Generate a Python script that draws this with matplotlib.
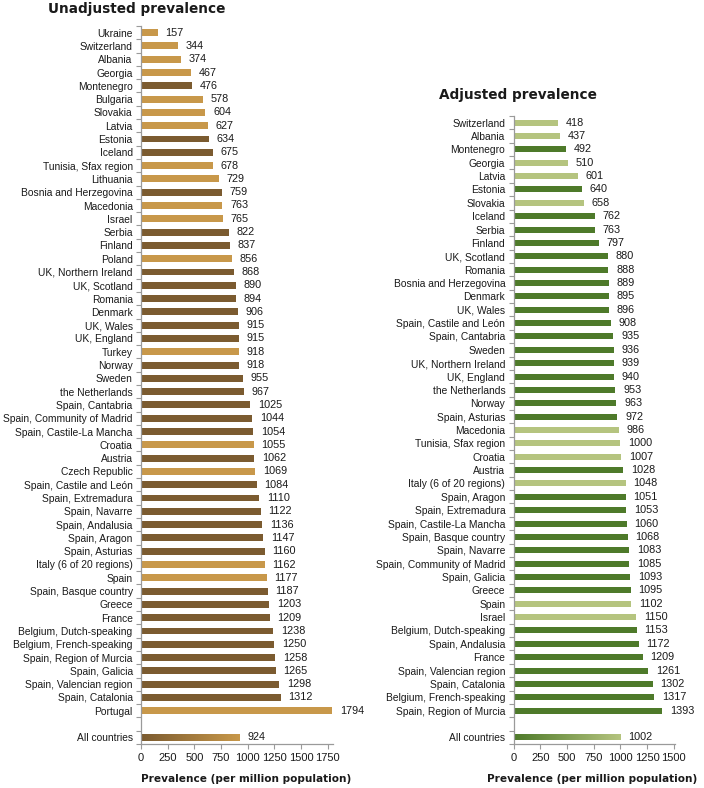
import matplotlib
matplotlib.use("Agg")
import matplotlib.pyplot as plt
import numpy as np
from matplotlib.colors import LinearSegmentedColormap
from matplotlib import font_manager

# ---------------- data ----------------
unadj_countries = ["Ukraine", "Switzerland", "Albania", "Georgia", "Montenegro", "Bulgaria",
                   "Slovakia", "Latvia", "Estonia", "Iceland", "Tunisia, Sfax region", "Lithuania",
                   "Bosnia and Herzegovina", "Macedonia", "Israel", "Serbia", "Finland", "Poland",
                   "UK, Northern Ireland", "UK, Scotland", "Romania", "Denmark", "UK, Wales",
                   "UK, England", "Turkey", "Norway", "Sweden", "the Netherlands",
                   "Spain, Cantabria", "Spain, Community of Madrid", "Spain, Castile-La Mancha",
                   "Croatia", "Austria", "Czech Republic", "Spain, Castile and León",
                   "Spain, Extremadura", "Spain, Navarre", "Spain, Andalusia", "Spain, Aragon",
                   "Spain, Asturias", "Italy (6 of 20 regions)", "Spain", "Spain, Basque country",
                   "Greece", "France", "Belgium, Dutch-speaking", "Belgium, French-speaking",
                   "Spain, Region of Murcia", "Spain, Galicia", "Spain, Valencian region",
                   "Spain, Catalonia", "Portugal"]
unadj_values = [157, 344, 374, 467, 476, 578, 604, 627, 634, 675, 678, 729, 759, 763, 765, 822,
                837, 856, 868, 890, 894, 906, 915, 915, 918, 918, 955, 967, 1025, 1044, 1054,
                1055, 1062, 1069, 1084, 1110, 1122, 1136, 1147, 1160, 1162, 1177, 1187, 1203,
                1209, 1238, 1250, 1258, 1265, 1298, 1312, 1794]
unadj_light = ["Ukraine", "Switzerland", "Albania", "Georgia", "Bulgaria", "Slovakia", "Latvia",
               "Tunisia, Sfax region", "Lithuania", "Macedonia", "Israel", "Poland", "Turkey",
               "Croatia", "Czech Republic", "Italy (6 of 20 regions)", "Spain", "Portugal"]
unadj_all = 924

adj_countries = ["Switzerland", "Albania", "Montenegro", "Georgia", "Latvia", "Estonia",
                 "Slovakia", "Iceland", "Serbia", "Finland", "UK, Scotland", "Romania",
                 "Bosnia and Herzegovina", "Denmark", "UK, Wales", "Spain, Castile and León",
                 "Spain, Cantabria", "Sweden", "UK, Northern Ireland", "UK, England",
                 "the Netherlands", "Norway", "Spain, Asturias", "Macedonia",
                 "Tunisia, Sfax region", "Croatia", "Austria", "Italy (6 of 20 regions)",
                 "Spain, Aragon", "Spain, Extremadura", "Spain, Castile-La Mancha",
                 "Spain, Basque country", "Spain, Navarre", "Spain, Community of Madrid",
                 "Spain, Galicia", "Greece", "Spain", "Israel", "Belgium, Dutch-speaking",
                 "Spain, Andalusia", "France", "Spain, Valencian region", "Spain, Catalonia",
                 "Belgium, French-speaking", "Spain, Region of Murcia"]
adj_values = [418, 437, 492, 510, 601, 640, 658, 762, 763, 797, 880, 888, 889, 895, 896, 908,
              935, 936, 939, 940, 953, 963, 972, 986, 1000, 1007, 1028, 1048, 1051, 1053, 1060,
              1068, 1083, 1085, 1093, 1095, 1102, 1150, 1153, 1172, 1209, 1261, 1302, 1317, 1393]
adj_light = ["Switzerland", "Albania", "Georgia", "Latvia", "Slovakia", "Macedonia",
             "Tunisia, Sfax region", "Croatia", "Italy (6 of 20 regions)", "Spain", "Israel"]
adj_all = 1002

unadj_ticks = [0, 250, 500, 750, 1000, 1250, 1500, 1750]
adj_ticks = [0, 250, 500, 750, 1000, 1250, 1500]

# ---------------- style ----------------
avail = {f.name for f in font_manager.fontManager.ttflist}
LFONT = "Liberation Sans" if "Liberation Sans" in avail else "DejaVu Sans"
plt.rcParams["font.family"] = [LFONT, "DejaVu Sans"]

BROWN_L, BROWN_D = "#C8984A", "#7B5B30"
GREEN_L, GREEN_D = "#B5C47F", "#4E7A2A"
SPINE = "#9A9A9A"
FS = 7.4
VFS = 7.8
TFS = 8.0

fig = plt.figure(figsize=(7.04, 7.88), dpi=100)


def draw_panel(ax, countries, values, light, all_val, c_light, c_dark, xmax, ticks, height):
    n = len(countries)
    ypos = list(range(n))
    all_y = n + 1
    colors = [c_light if c in light else c_dark for c in countries]
    ax.barh(ypos, values, height=height, color=colors, edgecolor="none", zorder=2)
    for y, v in zip(ypos, values):
        ax.annotate(f"{v}", (v, y), xytext=(5.5, 0), textcoords="offset points",
                    va="center", ha="left", fontsize=VFS, color="#1a1a1a", clip_on=False)
    # All countries gradient bar
    bar = ax.barh([all_y], [all_val], height=height, color="none", edgecolor="none", zorder=2)[0]
    cmap = LinearSegmentedColormap.from_list("g", [c_dark, c_light])
    grad = np.linspace(0, 1, 256).reshape(1, -1)
    im = ax.imshow(grad, cmap=cmap, aspect="auto",
                   extent=[0, all_val, all_y + height / 2, all_y - height / 2], zorder=2)
    im.set_clip_path(bar)
    ax.annotate(f"{all_val}", (all_val, all_y), xytext=(5.5, 0), textcoords="offset points",
                va="center", ha="left", fontsize=VFS, color="#1a1a1a", clip_on=False)

    ax.set_yticks(ypos + [all_y])
    ax.set_yticklabels(countries + ["All countries"], fontsize=FS, color="#1a1a1a")
    ax.set_yticks(np.arange(-0.5, all_y + 1, 1.0), minor=True)
    ax.tick_params(axis="y", which="major", length=0, pad=6)
    ax.tick_params(axis="y", which="minor", length=3.5, color=SPINE, width=0.8, direction="out")
    ax.set_ylim(all_y + 0.5, -0.5)
    ax.set_xlim(0, xmax)
    ax.set_xticks(ticks)
    ax.set_xticklabels([str(t) for t in ticks], fontsize=TFS, color="#1a1a1a")
    ax.tick_params(axis="x", which="major", length=3.5, color=SPINE, width=0.8, pad=3)
    for s in ("top", "right"):
        ax.spines[s].set_visible(False)
    for s in ("left", "bottom"):
        ax.spines[s].set_color(SPINE)
        ax.spines[s].set_linewidth(0.9)
    ax.set_facecolor("none")


W, H = 704.0, 788.0
ax1 = fig.add_axes([141 / W, 1 - 744 / H, 192 / W, (744 - 26) / H])
draw_panel(ax1, unadj_countries, unadj_values, unadj_light, unadj_all,
           BROWN_L, BROWN_D, 1800, unadj_ticks, 0.52)

ax2 = fig.add_axes([513.7 / W, 1 - 744 / H, 161.3 / W, (744 - 116) / H])
draw_panel(ax2, adj_countries, adj_values, adj_light, adj_all,
           GREEN_L, GREEN_D, 1512, adj_ticks, 0.45)

fig.text(136.5 / W, 1 - 9 / H, "Unadjusted prevalence", ha="center", va="center",
         fontsize=9.8, fontweight="bold", family="DejaVu Sans", color="#1a1a1a")
fig.text(517.5 / W, 1 - 95 / H, "Adjusted prevalence", ha="center", va="center",
         fontsize=9.8, fontweight="bold", family="DejaVu Sans", color="#1a1a1a")
fig.text(246 / W, 1 - 779 / H, "Prevalence (per million population)", ha="center", va="center",
         fontsize=7.6, fontweight="bold", family="DejaVu Sans", color="#1a1a1a")
fig.text(592 / W, 1 - 779 / H, "Prevalence (per million population)", ha="center", va="center",
         fontsize=7.6, fontweight="bold", family="DejaVu Sans", color="#1a1a1a")

fig.savefig("out.png", dpi=100)
